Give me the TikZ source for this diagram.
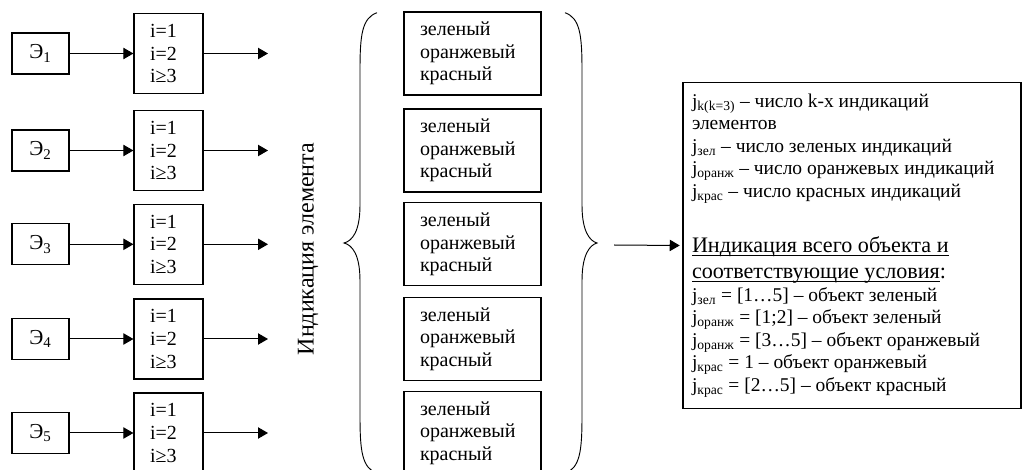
\documentclass[tikz,border=0pt]{standalone}
\usepackage{fontspec}
\setmainfont{Liberation Serif}
\usetikzlibrary{arrows.meta}
\newcommand{\jsb}[1]{j\textsubscript{#1}}
\newsavebox\ulbox
\newcommand{\ulin}[1]{\leavevmode\sbox\ulbox{#1}\rlap{\rule[-2.6pt]{\wd\ulbox}{0.6pt}}\usebox\ulbox}
\begin{document}
\begin{tikzpicture}[x=0.75pt,y=-0.75pt,
  box/.style={draw,line width=0.9pt,inner sep=0pt},
  ebox/.style={box,minimum width=42.75pt,minimum height=30.75pt,font=\fontsize{16pt}{18pt}\selectfont},
  ibox/.style={box,minimum width=51.75pt,minimum height=60pt,text width=27.75pt,inner xsep=12pt,align=left,font=\fontsize{15pt}{16.9pt}\selectfont},
  cbox/.style={box,minimum width=102.75pt,minimum height=62.25pt,text width=78.75pt,inner xsep=12pt,align=left,font=\fontsize{15pt}{16.9pt}\selectfont},
  arr/.style={line width=0.75pt,-{Triangle[length=7.5pt,width=8.5pt]}},
  brace/.style={line width=0.7pt}
]
\useasboundingbox (0,0) rectangle (1022,470);
\clip (0,0) rectangle (1022,470);

% element boxes, index boxes, indication boxes
\foreach \k/\yy in {1/53.5,2/150.5,3/244.3,4/339,5/433}{
  \node[ebox] (e\k) at (40.5,\yy) {Э\textsubscript{\k}};
  \node[ibox] (i\k) at (168.5,\yy) {i=1\\i=2\\i≥3};
  \coordinate (o\k) at (268,\yy);
  \node[cbox] (c\k) at (472.5,\yy) {зеленый\\оранжевый\\красный};
  \draw[arr] (e\k) -- (i\k);
  \draw[arr] (i\k) -- (o\k);
}

\node[rotate=90,font=\fontsize{18pt}{20pt}\selectfont] (lbl) at (308,249) {Индикация элемента};

% left brace
\draw[brace] (377,12.7) .. controls (362,18) and (360,35) .. (360,70) -- (360,205)
  .. controls (360,232) and (352,241) .. (344,243)
  .. controls (352,245) and (360,254) .. (360,281) -- (360,416)
  .. controls (360,451) and (362,468) .. (377,473.3);
% right brace
\draw[brace] (565,12.7) .. controls (580,18) and (582,35) .. (582,70) -- (582,205)
  .. controls (582,232) and (590,241) .. (597,243)
  .. controls (590,245) and (582,254) .. (582,281) -- (582,416)
  .. controls (582,451) and (580,468) .. (565,473.3);

\node[box,minimum width=253.5pt,minimum height=244.5pt] (rb) at (852,245.5) {%
\begin{minipage}{240pt}
\fontsize{14.6pt}{16.9pt}\selectfont
\jsb{k(k=3)} – число k-х индикаций\\
элементов\\
\jsb{зел} – число зеленых индикаций\\
\jsb{оранж} – число оранжевых индикаций\\
\jsb{крас} – число красных индикаций\par
\vspace{22pt}
{\fontsize{16.6pt}{19.5pt}\selectfont \ulin{Индикация всего объекта и}\\
\ulin{соответствующие условия}:\par}
\jsb{зел} = [1…5] – объект зеленый\\
\jsb{оранж} = [1;2] – объект зеленый\\
\jsb{оранж} = [3…5] – объект оранжевый\\
\jsb{крас} = 1 – объект оранжевый\\
\jsb{крас} = [2…5] – объект красный
\end{minipage}};

\coordinate (bt) at (614,245);
\draw[arr] (bt) -- ([xshift=-2pt]rb.west);
\end{tikzpicture}
\end{document}
